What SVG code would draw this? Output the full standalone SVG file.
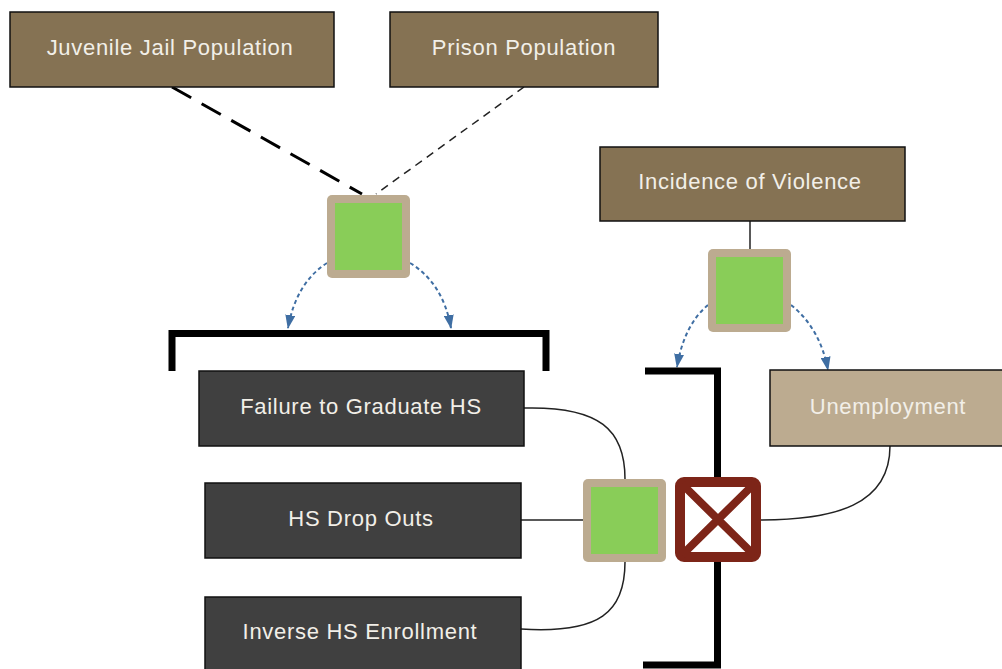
<svg xmlns="http://www.w3.org/2000/svg" width="1002" height="669" viewBox="0 0 1002 669">
<defs>
<style>
.lbl{font-family:"Liberation Sans",Arial,sans-serif;font-size:22px;letter-spacing:0.7px;fill:#f2efe8;text-anchor:middle;dominant-baseline:central}
.brown{fill:#857253;stroke:#111;stroke-width:1.5}
.tan{fill:#bcab90;stroke:#111;stroke-width:1.5}
.dark{fill:#404040;stroke:#111;stroke-width:1.5}
.sq{fill:#bcab90}
.gr{fill:#89cd58}
.wire{fill:none;stroke:#222;stroke-width:1.5}
.blue{fill:none;stroke:#3f6ea3;stroke-width:2;stroke-dasharray:4,3}
.brk{fill:none;stroke:#000;stroke-width:7}
</style>
<marker id="ah" viewBox="0 0 14 10" refX="13" refY="5" markerWidth="14" markerHeight="10" orient="auto" markerUnits="userSpaceOnUse">
<path d="M0,0 L14,5 L0,10 z" fill="#3f6ea3"/>
</marker>
</defs>
<rect width="1002" height="669" fill="#fff"/>
<g id="connectors">
<line x1="172" y1="87" x2="362" y2="194" stroke="#000" stroke-width="3" stroke-dasharray="22,12"/>
<line x1="524" y1="87" x2="376" y2="194" stroke="#222" stroke-width="1.5" stroke-dasharray="8,6"/>
<line x1="750" y1="221" x2="750" y2="249" stroke="#222" stroke-width="1.5"/>
<path class="blue" d="M327,263 Q296,283 288,328" marker-end="url(#ah)"/>
<path class="blue" d="M410,263 Q443,283 451,328" marker-end="url(#ah)"/>
<path class="blue" d="M708,305 Q684,325 677,367" marker-end="url(#ah)"/>
<path class="blue" d="M791,305 Q820,328 828,370" marker-end="url(#ah)"/>
<path class="brk" d="M172,371 V333.5 H546 V371"/>
<path class="brk" d="M645,371 H717.5 V665 H643"/>
<path class="wire" d="M524,408 C600,406 625,430 625,479"/>
<line x1="521" y1="520" x2="583" y2="520" stroke="#222" stroke-width="1.5"/>
<path class="wire" d="M521,629 C600,634 625,612 625,562"/>
<path class="wire" d="M890,446 C890,505 835,520 760,520"/>
</g>
<g id="juvenile">
<rect class="brown" x="10" y="12" width="324" height="75"/>
<text class="lbl" x="170" y="47">Juvenile Jail Population</text>
</g>
<g id="prison">
<rect class="brown" x="390" y="12" width="268" height="75"/>
<text class="lbl" x="524" y="47">Prison Population</text>
</g>
<g id="violence">
<rect class="brown" x="600" y="147" width="305" height="74"/>
<text class="lbl" x="750" y="181">Incidence of Violence</text>
</g>
<g id="and1">
<rect class="sq" x="327" y="195" width="83" height="83" rx="5"/>
<rect class="gr" x="335" y="203" width="67" height="67"/>
</g>
<g id="and2">
<rect class="sq" x="708" y="249" width="83" height="83" rx="5"/>
<rect class="gr" x="716" y="257" width="67" height="67"/>
</g>
<g id="failure">
<rect class="dark" x="199" y="371" width="325" height="75"/>
<text class="lbl" x="361" y="406">Failure to Graduate HS</text>
</g>
<g id="dropouts">
<rect class="dark" x="205" y="483" width="316" height="75"/>
<text class="lbl" x="361" y="518">HS Drop Outs</text>
</g>
<g id="enrollment">
<rect class="dark" x="205" y="597" width="316" height="80"/>
<text class="lbl" x="360" y="631">Inverse HS Enrollment</text>
</g>
<g id="unemployment">
<rect class="tan" x="770" y="370" width="240" height="76"/>
<text class="lbl" x="888" y="406">Unemployment</text>
</g>
<g id="and3">
<rect class="sq" x="583" y="479" width="83" height="83" rx="5"/>
<rect class="gr" x="591" y="487" width="67" height="67"/>
</g>
<g id="xbox">
<rect x="680" y="482" width="76" height="75" rx="4" fill="#fff" stroke="#7d2518" stroke-width="10"/>
<path d="M682,484 L754,555 M754,484 L682,555" stroke="#7d2518" stroke-width="8"/>
</g>
</svg>
